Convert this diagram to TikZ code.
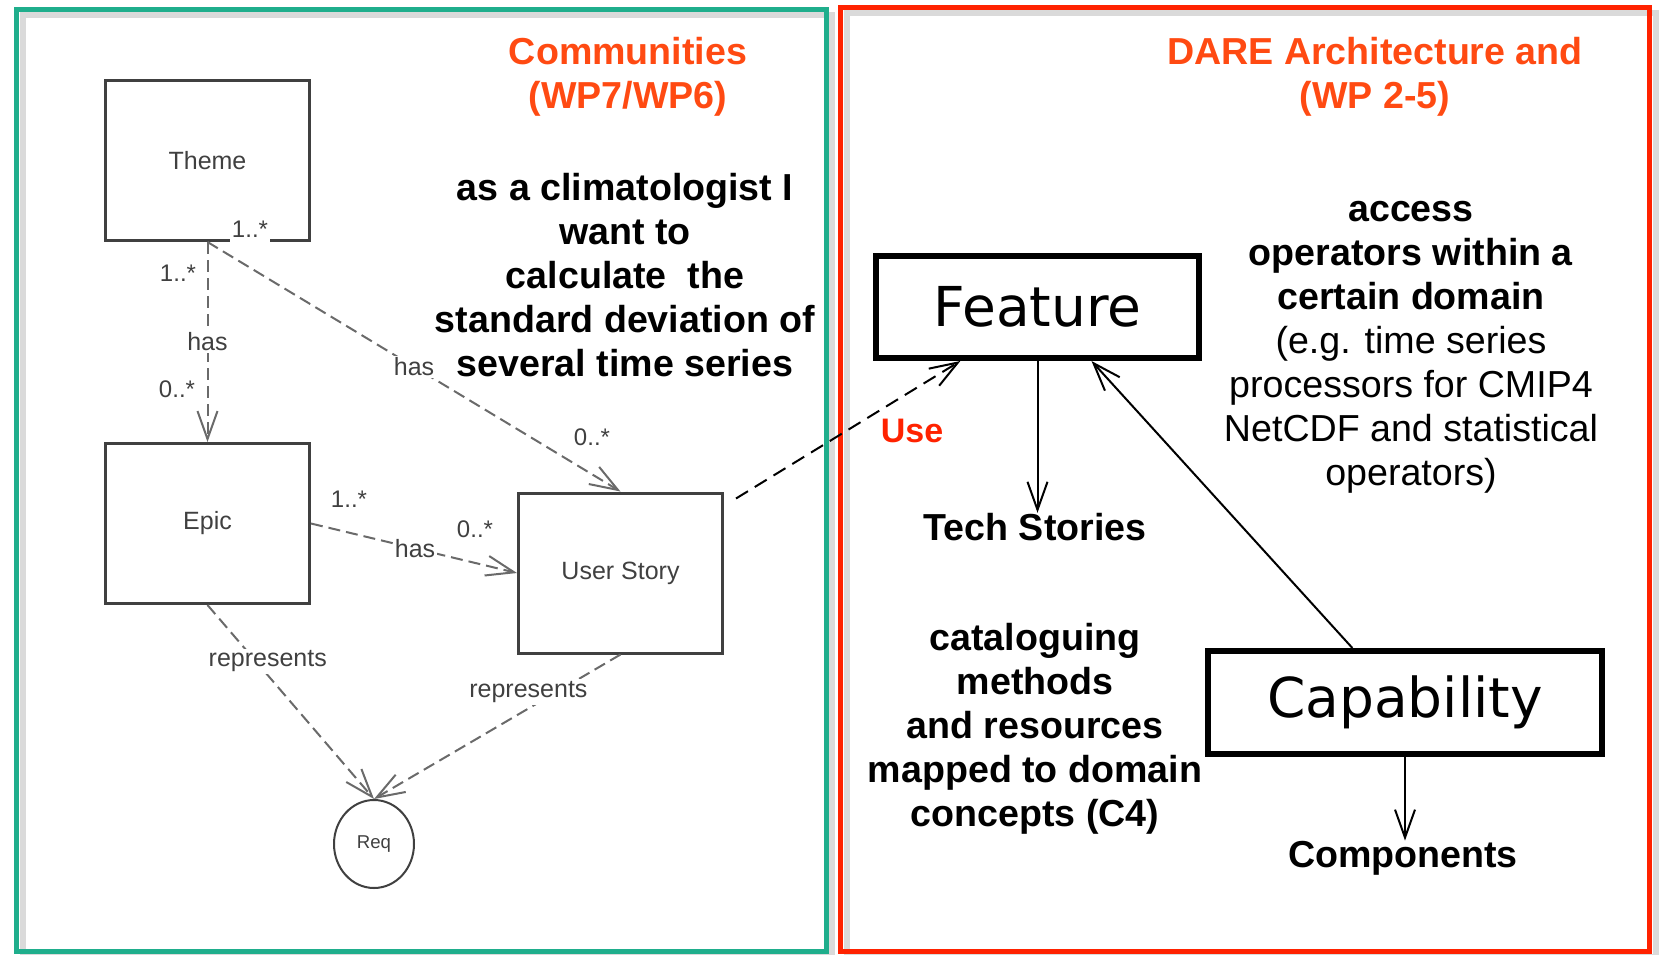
\documentclass[tikz,border=0pt]{standalone}
\usepackage{fontspec}
\setmainfont{Liberation Sans}
\newfontfamily\boxfont{DejaVu Sans}
\usepackage{xcolor}
\usepackage{tikz}
\usetikzlibrary{positioning, arrows.meta, shapes.geometric}
\definecolor{commgreen}{HTML}{1FAE8C}
\definecolor{darered}{HTML}{FF2200}
\definecolor{titleorange}{HTML}{FF4A12}
\definecolor{umlgray}{HTML}{404040}
\definecolor{umlline}{HTML}{6A6A6A}
\definecolor{shadowgray}{HTML}{DADADA}

\begin{document}
\begin{tikzpicture}[x=0.5pt, y=-0.5pt,
  umlbox/.style={draw=umlgray, line width=1.5pt, minimum width=102pt, minimum height=80pt,
    font=\fontsize{12.5}{15}\selectfont, text=umlgray},
  umllink/.style={draw=umlline, line width=1pt, dash pattern=on 6pt off 3pt,
    -{Straight Barb[length=14pt, width=10pt]}},
  umllabel/.style={font=\fontsize{12.5}{15}\selectfont, text=umlgray, fill=white, inner sep=1pt},
  mult/.style={font=\fontsize{12}{14}\selectfont, text=umlgray, inner sep=1pt},
  bigbox/.style={draw=black, line width=3pt, font=\boxfont\fontsize{27.5}{33}\selectfont},
  story/.style={font=\fontsize{18.8}{22}\selectfont\bfseries, align=center},
  archarrow/.style={draw=black, line width=1pt, -{Straight Barb[length=14pt, width=10pt]}}]
  \useasboundingbox (0,0) rectangle (1660,954);
  \draw[shadowgray, line width=3pt] (22.5,15) rectangle (832,957);
  \draw[shadowgray, line width=3pt] (846.5,13) rectangle (1655.5,957);
  \draw[commgreen, line width=2.5pt] (16.5,9) rectangle (826,951);
  \draw[darered, line width=2.5pt] (840.5,7) rectangle (1649.5,951);

  \node[story, text=titleorange] (commtitle) at (628,77) {Communities\\(WP7/WP6)};
  \node[story, text=titleorange] (daretitle) at (1375,77) {DARE Architecture and\\(WP 2-5)};

  \node[umlbox] (theme) at (207.5,160.5) {Theme};
  \node[umlbox] (epic) at (207.5,523.5) {Epic};
  \node[umlbox] (story) at (620.5,573) {User Story};
  \node[ellipse, draw=umlgray, line width=1pt, minimum width=40pt, minimum height=44pt,
        inner sep=0pt, font=\fontsize{9.3}{11}\selectfont, text=umlgray] (req) at (374,844) {Req};

  \node[mult, fill=white, anchor=base, text depth=5pt] (thememult) at (250,237) {1..*};
  \draw[umllink] (theme.south) -- node[umllabel] (hasepic) {has} (epic.north);
  \draw[umllink] (theme.south) -- node[umllabel] (hasstory) {has} (story.north);
  \draw[umllink] (epic.east) -- node[umllabel, pos=0.505] (epichas) {has} (story.west);
  \draw[umllink] (epic.south) -- node[umllabel, pos=0.29, xshift=6pt] (epicrep) {represents} (req.north);
  \draw[umllink] (story.south) -- node[umllabel, pos=0.26, xshift=-14pt] (storyrep) {represents} (req.north);
  \node[mult] (epicmulta) at (178,273) {1..*};
  \node[mult] (epicmultb) at (177,389) {0..*};
  \node[mult] (storymulta) at (592,437) {0..*};
  \node[mult] (storymultb) at (349,499) {1..*};
  \node[mult] (storymultc) at (475,529) {0..*};

  \node[story] (climate) at (625,275)
    {as a climatologist I\\want to\\calculate\ \ the\\standard deviation of\\several time series};

  \node[bigbox, minimum width=161.5pt, minimum height=51pt] (feature) at (1037.5,307) {Feature};
  \node[bigbox, minimum width=197pt, minimum height=51.5pt] (capability) at (1405,702.5) {Capability};
  \node[story, inner sep=0pt] (tech) at (1035,527) {Tech Stories};
  \node[story, inner sep=0pt] (comp) at (1403,858) {Components};
  \node[story, font=\fontsize{18.8}{22}\selectfont] (access) at (1411,347)
    {\textbf{access}\\\textbf{operators within a}\\\textbf{certain domain}\\(e.g. time series\\processors for CMIP4\\NetCDF and statistical\\operators)};
  \node[story] (catalog) at (1035,729)
    {cataloguing\\methods\\and resources\\mapped to domain\\concepts (C4)};
  \node[font=\fontsize{17}{20}\selectfont\bfseries, text=darered] (use) at (912,431) {Use};

  \draw[archarrow] (feature.south) -- (feature.south |- tech.north);
  \draw[archarrow] (capability.134) -- (feature.315);
  \draw[archarrow] (capability.south) -- (capability.south |- comp.north);
  \draw[archarrow, dash pattern=on 7pt off 4pt] ([xshift=6pt, yshift=-3.5pt]story.north east) -- (feature.215);
\end{tikzpicture}
\end{document}
